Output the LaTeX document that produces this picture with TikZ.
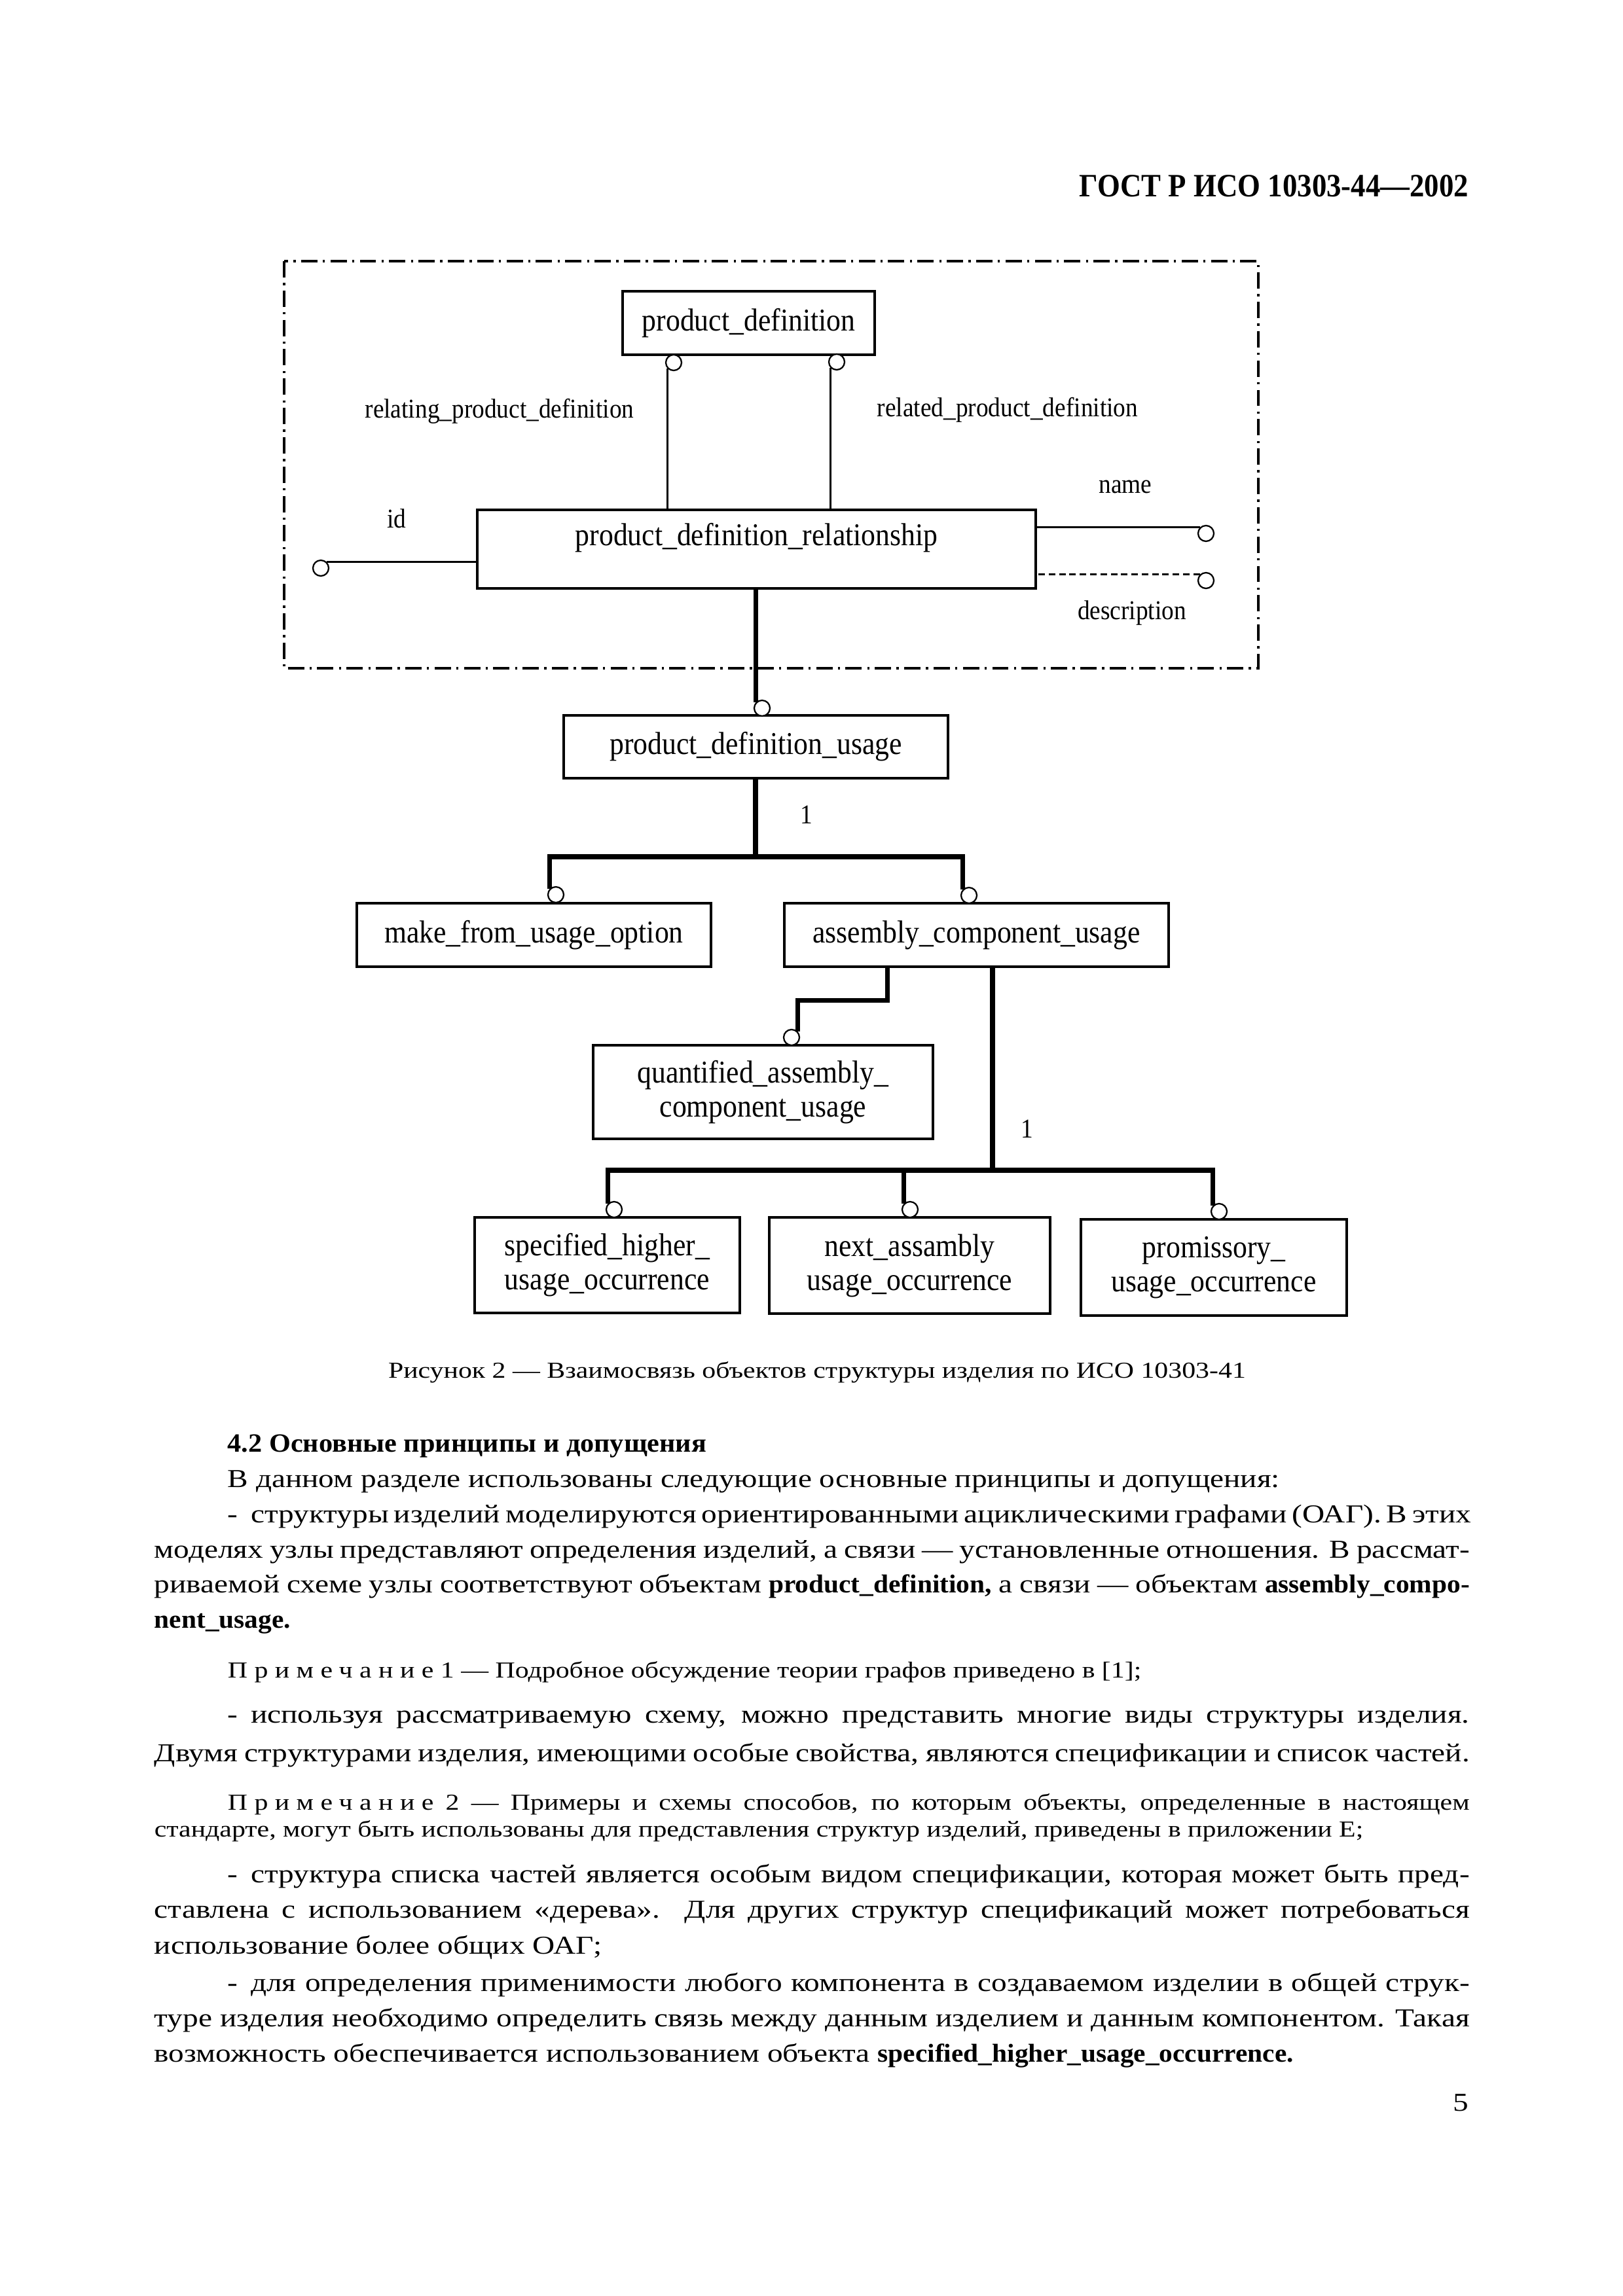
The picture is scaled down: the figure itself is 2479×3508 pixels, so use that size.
\documentclass[tikz,border=0pt]{standalone}
\usepackage{fontspec}
\setmainfont{Liberation Serif}
\newfontfamily\diagfont[FakeStretch=0.9]{Liberation Serif}
\newfontfamily\bodyfont[FakeStretch=1.2]{Liberation Serif}
\newfontfamily\headfont[FakeStretch=1.05]{Liberation Serif}
\newfontfamily\gostfont[FakeStretch=0.9]{Liberation Serif}
\def\px{0.084667mm}
\def\fullw{170.1mm}
\def\indw{160.6mm}
\newcommand{\sparse}[1]{{\addfontfeature{LetterSpace=30}#1}}
\newcommand{\obj}[1]{{\headfont\bfseries #1}}

\begin{document}
\begin{tikzpicture}[x=\px, y=-\px,
    entity/.style={draw, rectangle, line width=0.75pt, inner sep=0pt, align=center,
      font=\diagfont\fontsize{11.7}{12.5}\selectfont},
    ring/.style={circle, draw, line width=0.55pt, minimum size=24*\px, inner sep=0pt, fill=white},
    link/.style={line width=0.6pt},
    heavy/.style={line width=1.8pt},
    frame/.style={line width=0.9pt, dash pattern=on 6pt off 2pt on 0.8pt off 2pt},
    attr/.style={font=\diagfont\fontsize{10}{12}\selectfont, inner sep=0pt, anchor=base},
    body/.style={font=\bodyfont\fontsize{9.5}{11}\selectfont, inner sep=0pt, anchor=base west},
    note/.style={font=\bodyfont\fontsize{8.4}{10}\selectfont, inner sep=0pt, anchor=base west}]
    \fill[white] (0,0) rectangle (2479,3508);
    \useasboundingbox (0,0) rectangle (2479,3508);

    %% page head
    \node[font=\gostfont\bfseries\fontsize{12}{14}\selectfont, inner sep=0pt, anchor=base east] (gost) at (2244,300) {ГОСТ Р ИСО 10303-44—2002};

    %% schema frame
    \draw[frame] (434,399) rectangle (1922,1021);

    %% entities
    \node[entity, minimum width=385*\px, minimum height=97*\px] (pd) at (1143.5,493.5) {product\_definition};
    \node[entity, minimum width=853*\px, text height=4.572mm, text depth=5.588mm] (pdr) at (1155.5,839) {product\_definition\_relationship};
    \node[entity, minimum width=587*\px, minimum height=96*\px] (pdu) at (1154.5,1141) {product\_definition\_usage};
    \node[entity, minimum width=541*\px, minimum height=97*\px] (mfuo) at (815.5,1428.5) {make\_from\_usage\_option};
    \node[entity, minimum width=587*\px, minimum height=97*\px] (acu) at (1491.5,1428.5) {assembly\_component\_usage};
    \node[entity, minimum width=519*\px, minimum height=143*\px] (qacu) at (1165.5,1668.5) {quantified\_assembly\_\\component\_usage};
    \node[entity, minimum width=405*\px, minimum height=146*\px] (shuo) at (927.5,1933) {specified\_higher\_\\usage\_occurrence};
    \node[entity, minimum width=429*\px, minimum height=147*\px] (naus) at (1389.5,1933.5) {next\_assambly\\usage\_occurrence};
    \node[entity, minimum width=406*\px, minimum height=147*\px] (puo) at (1854,1936.5) {promissory\_\\usage\_occurrence};

    %% attribute labels
    \node[attr] (lrel) at (763,638) {relating\_product\_definition};
    \node[attr] (lred) at (1539,636) {related\_product\_definition};
    \node[attr] (lid) at (606,806) {id};
    \node[attr] (lname) at (1719,753) {name};
    \node[attr] (ldesc) at (1729,946) {description};

    %% rings
    \node[ring] (r1) at (1029,554) {};
    \node[ring] (r2) at (1278,553) {};
    \node[ring] (rid) at (490,868) {};
    \node[ring] (rname) at (1842,815) {};
    \node[ring] (rdesc) at (1842,887) {};
    \node[ring] (rpdu) at (1164,1082) {};
    \node[ring] (rmf) at (849,1367) {};
    \node[ring] (racu) at (1480,1368) {};
    \node[ring] (rq) at (1209,1585) {};
    \node[ring] (rsh) at (938,1848) {};
    \node[ring] (rna) at (1390,1848) {};
    \node[ring] (rpu) at (1862,1851) {};

    %% relationship attributes
    \draw[link] (r1.south west) -- (r1.south west |- pdr.north);
    \draw[link] (r2.south west) -- (r2.south west |- pdr.north);
    \draw[link] (rid.north east) -- (rid.north east -| pdr.west);
    \draw[link] (rname.north west) -- (rname.north west -| pdr.east);
    \draw[link, dash pattern=on 2.4pt off 1.4pt] (rdesc.north west) -- (rdesc.north west -| pdr.east);

    %% subtype trees
    \coordinate (j1) at (1154,1309);
    \coordinate (j2) at (1516,1788);
    \draw[heavy] (rpdu.north west |- pdr.south) -- (rpdu.north west);
    \draw[heavy] (j1 |- pdu.south) -- (j1);
    \draw[heavy] (rmf.north west) |- (racu.north west |- j1) -- (racu.north west);
    \draw[heavy] ([xshift=159*\px]acu.south west) -- ++(0,50) -| (rq.north east);
    \draw[heavy] (j2 |- acu.south) -- (j2);
    \draw[heavy] (rsh.north west) |- (rpu.north west |- j2) -- (rpu.north west);
    \draw[heavy] (rna.north west |- j2) -- (rna.north west);
    \node[attr] (n1) at (1232,1258) {1};
    \node[attr] (n2) at (1569,1738) {1};

    %% caption
    \node[note, anchor=base] (cap) at (1248,2105) {Рисунок 2 — Взаимосвязь объектов структуры изделия по ИСО 10303-41};

    %% section text
    \node[body, font=\headfont\bfseries\fontsize{9.7}{11}\selectfont] (h42) at (347,2218) {4.2 Основные принципы и допущения};
    \node[body] (t1) at (347,2272) {В данном разделе использованы следующие основные принципы и допущения:};
    \node[body] (t2) at (347,2326) {\makebox[\indw][s]{-\enspace структуры изделий моделируются ориентированными ациклическими графами (ОАГ). В этих}};
    \node[body] (t3) at (235,2380) {\makebox[\fullw][s]{моделях узлы представляют определения изделий, а связи — установленные отношения. В рассмат-}};
    \node[body] (t4) at (235,2433) {\makebox[\fullw][s]{риваемой схеме узлы соответствуют объектам \obj{product\_definition,} а связи — объектам \obj{assembly\_compo-}}};
    \node[body] (t5) at (235,2487) {\obj{nent\_usage.}};
    \node[note] (t6) at (347,2563) {\sparse{Примечание} 1 — Подробное обсуждение теории графов приведено в [1];};
    \node[body] (t7) at (347,2632) {\makebox[\indw][s]{-\enspace используя рассматриваемую схему, можно представить многие виды структуры изделия.}};
    \node[body] (t8) at (235,2691) {\makebox[\fullw][s]{Двумя структурами изделия, имеющими особые свойства, являются спецификации и список частей.}};
    \node[note] (t9) at (347,2765) {\makebox[\indw][s]{\sparse{Примечание} 2 — Примеры и схемы способов, по которым объекты, определенные в настоящем}};
    \node[note] (t10) at (235,2806) {стандарте, могут быть использованы для представления структур изделий, приведены в приложении Е;};
    \node[body] (t11) at (347,2876) {\makebox[\indw][s]{-\enspace структура списка частей является особым видом спецификации, которая может быть пред-}};
    \node[body] (t12) at (235,2930) {\makebox[\fullw][s]{ставлена с использованием «дерева». Для других структур спецификаций может потребоваться}};
    \node[body] (t13) at (235,2985) {использование более общих ОАГ;};
    \node[body] (t14) at (347,3042) {\makebox[\indw][s]{-\enspace для определения применимости любого компонента в создаваемом изделии в общей струк-}};
    \node[body] (t15) at (235,3096) {\makebox[\fullw][s]{туре изделия необходимо определить связь между данным изделием и данным компонентом. Такая}};
    \node[body] (t16) at (235,3150) {возможность обеспечивается использованием объекта \obj{specified\_higher\_usage\_occurrence.}};
    \node[body, anchor=base east] (pgno) at (2244,3225) {5};
  \end{tikzpicture}
\end{document}
